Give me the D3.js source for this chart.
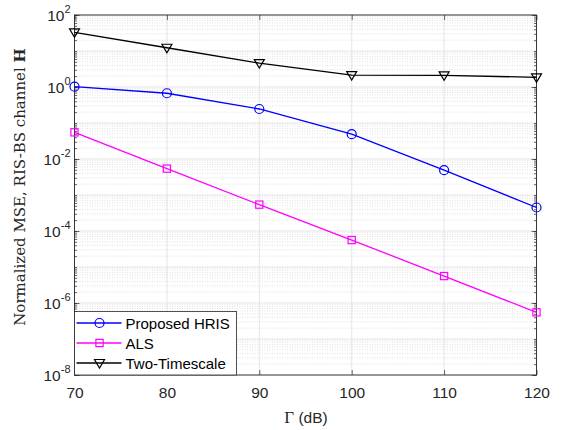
<!DOCTYPE html>
<html>
<head>
<meta charset="utf-8">
<script src="https://cdn.jsdelivr.net/npm/d3@7"></script>
<style>
  body { margin: 0; background: #fff; }
  svg { display: block; }
</style>
</head>
<body>
<script>
// data
var gammaDb = [70, 80, 90, 100, 110, 120];
var proposedHris = [1.02, 0.67, 0.245, 0.049, 0.0049, 0.00045];
var als = [0.055, 0.0054, 0.00054, 0.000056, 0.0000056, 0.00000055];
var twoTimescale = [33, 12.3, 4.6, 2.15, 2.1, 1.86];
var xTicks = [70, 80, 90, 100, 110, 120];
var yExponents = [-8, -6, -4, -2, 0, 2];

var W = 561, H = 430;
var margin = {top: 15, right: 24.5, bottom: 55, left: 74.5};
var width = W - margin.left - margin.right,
    height = H - margin.top - margin.bottom;

var svg = d3.select("body").append("svg")
    .attr("width", W)
    .attr("height", H);

var g = svg.append("g")
    .attr("transform", "translate(" + margin.left + "," + margin.top + ")");

var x = d3.scaleLinear().domain([70, 120]).range([0, width]);
var y = d3.scaleLog().domain([1e-8, 1e2]).range([height, 0]);

var axisColor = "#262626";
var sans = "Liberation Sans, Arial, Helvetica, sans-serif";

// minor grid (dotted) for y
var minorVals = [];
for (var e = -8; e < 2; e++) {
    for (var m = 2; m <= 9; m++) minorVals.push(m * Math.pow(10, e));
}
g.append("g").selectAll("line")
    .data(minorVals)
    .enter().append("line")
    .attr("x1", 0).attr("x2", width)
    .attr("y1", function (d) { return y(d); })
    .attr("y2", function (d) { return y(d); })
    .attr("stroke", "#cfcfcf")
    .attr("stroke-width", 0.6)
    .attr("stroke-dasharray", "1,1.5");

// major grid
var majorY = yExponents.concat([-7, -5, -3, -1, 1]).map(function (e) { return Math.pow(10, e); });
g.append("g").selectAll("line")
    .data(majorY)
    .enter().append("line")
    .attr("x1", 0).attr("x2", width)
    .attr("y1", function (d) { return y(d); })
    .attr("y2", function (d) { return y(d); })
    .attr("stroke", "#dedede")
    .attr("stroke-width", 0.8);

g.append("g").selectAll("line")
    .data(xTicks)
    .enter().append("line")
    .attr("y1", 0).attr("y2", height)
    .attr("x1", function (d) { return x(d); })
    .attr("x2", function (d) { return x(d); })
    .attr("stroke", "#dedede")
    .attr("stroke-width", 0.8);

// axes: ticks inside, on both sides
var xb = g.append("g").attr("transform", "translate(0," + height + ")")
    .call(d3.axisBottom(x).tickValues(xTicks).tickSizeInner(-5).tickSizeOuter(0).tickPadding(10));
g.append("g")
    .call(d3.axisTop(x).tickValues(xTicks).tickSizeInner(-5).tickSizeOuter(0).tickFormat(""));

var majorTicks = yExponents.map(function (e) { return Math.pow(10, e); });
g.append("g")
    .call(d3.axisLeft(y).tickValues(majorTicks).tickSizeInner(-5).tickSizeOuter(0).tickFormat(""));
g.append("g").attr("transform", "translate(" + width + ",0)")
    .call(d3.axisRight(y).tickValues(majorTicks).tickSizeInner(-5).tickSizeOuter(0).tickFormat(""));
// minor ticks
g.append("g").call(d3.axisLeft(y).tickValues(minorVals.concat(majorY)).tickSizeInner(-2.5).tickSizeOuter(0).tickFormat(""));
g.append("g").attr("transform", "translate(" + width + ",0)")
    .call(d3.axisRight(y).tickValues(minorVals.concat(majorY)).tickSizeInner(-2.5).tickSizeOuter(0).tickFormat(""));

g.selectAll(".domain").attr("stroke", "none");
g.selectAll(".tick line").attr("stroke", axisColor).attr("stroke-width", 0.7);

xb.selectAll("text")
    .attr("font-family", sans)
    .attr("font-size", "15.5px")
    .attr("fill", axisColor)
    .attr("dy", "0.85em");

// y tick labels 10^e
var yLab = g.append("g").selectAll("text")
    .data(yExponents)
    .enter().append("text")
    .attr("x", -4)
    .attr("y", function (d) { return y(Math.pow(10, d)) + 5.5; })
    .attr("text-anchor", "end")
    .attr("font-family", sans)
    .attr("font-size", "15.5px")
    .attr("fill", axisColor);
yLab.append("tspan").text("10");
yLab.append("tspan")
    .attr("dy", -7.5)
    .attr("font-size", "11px")
    .text(function (d) { return d; });

// box
g.append("rect")
    .attr("width", width).attr("height", height)
    .attr("fill", "none")
    .attr("stroke", axisColor)
    .attr("stroke-width", 0.9);

// series
var series = [
    {name: "Proposed HRIS", values: proposedHris, color: "#0000ff", marker: "circle"},
    {name: "ALS", values: als, color: "#ff00ff", marker: "square"},
    {name: "Two-Timescale", values: twoTimescale, color: "#000000", marker: "triangle"}
];

var line = d3.line()
    .x(function (d) { return x(d[0]); })
    .y(function (d) { return y(d[1]); });

function drawMarker(sel, type, color) {
    if (type === "circle") {
        sel.append("circle").attr("r", 4.5)
            .attr("fill", "none").attr("stroke", color).attr("stroke-width", 1.2);
    } else if (type === "square") {
        sel.append("rect").attr("x", -3.6).attr("y", -3.6).attr("width", 7.2).attr("height", 7.2)
            .attr("fill", "none").attr("stroke", color).attr("stroke-width", 1.2);
    } else {
        sel.append("path").attr("d", "M-5,-3.5L5,-3.5L0,5Z")
            .attr("fill", "none").attr("stroke", color).attr("stroke-width", 1.2);
    }
}

series.forEach(function (s) {
    var pts = gammaDb.map(function (v, i) { return [v, s.values[i]]; });
    g.append("path")
        .datum(pts)
        .attr("d", line)
        .attr("fill", "none")
        .attr("stroke", s.color)
        .attr("stroke-width", 1.3);
    g.append("g").selectAll("g")
        .data(pts)
        .enter().append("g")
        .attr("transform", function (d) { return "translate(" + x(d[0]) + "," + y(d[1]) + ")"; })
        .each(function () { drawMarker(d3.select(this), s.marker, s.color); });
});

// legend
var legH = 63.5;
var leg = g.append("g").attr("transform", "translate(0," + (height - legH) + ")");
leg.append("rect")
    .attr("width", 162).attr("height", legH)
    .attr("fill", "#fff")
    .attr("stroke", axisColor)
    .attr("stroke-width", 0.8);
series.forEach(function (s, i) {
    var row = leg.append("g").attr("transform", "translate(0," + (11.5 + i * 20) + ")");
    row.append("line").attr("x1", 2).attr("x2", 47)
        .attr("stroke", s.color).attr("stroke-width", 1.3);
    var mk = row.append("g").attr("transform", "translate(25,0)");
    drawMarker(mk, s.marker, s.color);
    row.append("text")
        .attr("x", 51).attr("y", 5.5)
        .attr("font-family", sans)
        .attr("font-size", "15px")
        .attr("fill", "#000")
        .text(s.name);
});

// axis labels
var xl = svg.append("text")
    .attr("x", 306)
    .attr("y", 423)
    .attr("text-anchor", "middle")
    .attr("fill", axisColor);
xl.append("tspan").attr("font-family", "Liberation Serif, serif").attr("font-size", "17px").text("Γ");
xl.append("tspan").attr("font-family", sans).attr("font-size", "15.5px").text(" (dB)");

var ylab = svg.append("text")
    .attr("transform", "translate(25," + (margin.top + 172) + ") rotate(-90)")
    .attr("text-anchor", "middle")
    .attr("font-family", "DejaVu Serif, Liberation Serif, serif")
    .attr("font-size", "15px")
    .attr("fill", axisColor);
ylab.append("tspan").text("Normalized MSE, RIS-BS channel ");
ylab.append("tspan").attr("font-weight", "bold").text("H");
</script>
</body>
</html>
